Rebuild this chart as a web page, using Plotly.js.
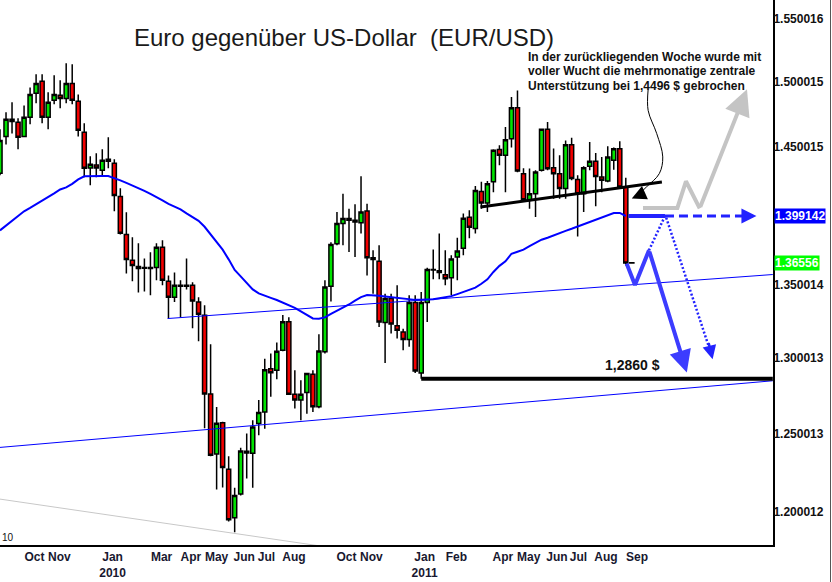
<!DOCTYPE html>
<html>
<head>
<meta charset="utf-8">
<script src="https://cdn.plot.ly/plotly-3.0.1.min.js"></script>
<style>html,body{margin:0;padding:0;background:#fff}#chart{width:832px;height:582px}</style>
</head>
<body>
<div id="chart"></div>
<script>
// ---------- DATA (weekly EUR/USD, weeks starting 2009-09-07) ----------
const firstWeek = '2009-09-07';
const openP = [1.4305,1.4580,1.4710,1.4687,1.4580,1.4725,1.4909,1.5002,1.4725,1.4855,
1.4894,1.4870,1.4986,1.4848,1.4611,1.4343,1.4366,1.4326,1.4409,1.4379,
1.4134,1.3858,1.3673,1.3630,1.3618,1.3616,1.3623,1.3766,1.3525,1.3415,
1.3497,1.3490,1.3497,1.3381,1.3289,1.2758,1.2367,1.2570,1.2270,1.1966,
1.2114,1.2385,1.2372,1.2564,1.2640,1.2927,1.2916,1.3051,1.3245,1.2756,
1.2718,1.2768,1.2889,1.2674,1.3040,1.3490,1.3792,1.3936,1.3972,1.3960,
1.3943,1.4027,1.3692,1.3666,1.3240,1.3406,1.3218,1.3175,1.3123,1.3377,
1.2897,1.3377,1.3609,1.3600,1.3572,1.3551,1.3697,1.3759,1.3982,1.3901,
1.4170,1.4085,1.4241,1.4481,1.4439,1.4563,1.4799,1.4301,1.4105,1.4154,
1.4326,1.4634,1.4346,1.4301,1.4191,1.4518,1.4259,1.4154,1.4356,1.4394,
1.4276,1.4247,1.4401,1.4488,1.4202,1.3655];
const highP = [1.4634,1.4763,1.4840,1.4717,1.4816,1.4955,1.5057,1.5057,1.4917,1.5049,
1.5010,1.5143,1.5135,1.4901,1.4679,1.4431,1.4454,1.4483,1.4573,1.4409,
1.4193,1.4018,1.3837,1.3795,1.3687,1.3731,1.3795,1.3816,1.3567,1.3588,
1.3532,1.3687,1.3518,1.3415,1.3358,1.3092,1.2673,1.2576,1.2353,1.2154,
1.2408,1.2500,1.2586,1.2718,1.2994,1.3028,1.3103,1.3291,1.3276,1.2916,
1.2849,1.2898,1.2916,1.3159,1.3532,1.3802,1.4020,1.4154,1.4044,1.4076,
1.4282,1.4081,1.3745,1.3781,1.3439,1.3439,1.3497,1.3197,1.3428,1.3428,
1.3451,1.3621,1.3750,1.3864,1.3745,1.3709,1.3835,1.4010,1.4032,1.4210,
1.4241,1.4247,1.4483,1.4513,1.4652,1.4880,1.4932,1.4341,1.4339,1.4326,
1.4639,1.4689,1.4489,1.4439,1.4550,1.4570,1.4289,1.4356,1.4537,1.4456,
1.4426,1.4506,1.4496,1.4543,1.4272,1.3657];
const lowP = [1.4290,1.4520,1.4603,1.4483,1.4573,1.4672,1.4832,1.4679,1.4634,1.4825,
1.4794,1.4832,1.4825,1.4580,1.4274,1.4215,1.4274,1.4282,1.4341,1.4025,
1.3858,1.3581,1.3525,1.3448,1.3455,1.3428,1.3532,1.3497,1.3268,1.3381,
1.3275,1.3469,1.3200,1.3111,1.2534,1.2353,1.2143,1.2155,1.1943,1.1876,
1.2104,1.2212,1.2154,1.2489,1.2530,1.2740,1.2856,1.3044,1.2751,1.2662,
1.2586,1.2629,1.2640,1.2664,1.3028,1.3384,1.3780,1.3780,1.3733,1.3697,
1.3864,1.3567,1.3439,1.3209,1.2965,1.3164,1.3130,1.3051,1.3074,1.2897,
1.2860,1.3244,1.3539,1.3539,1.3497,1.3428,1.3532,1.3709,1.3830,1.3865,
1.4044,1.4020,1.4165,1.4364,1.4165,1.4496,1.4311,1.4105,1.4044,1.3984,
1.4318,1.4326,1.4117,1.4117,1.4117,1.4252,1.3844,1.4020,1.4326,1.4061,
1.4165,1.4237,1.4331,1.4193,1.3637,1.3654];
const closeP = [1.4550,1.4710,1.4694,1.4573,1.4725,1.4901,1.4986,1.4725,1.4840,1.4901,
1.4870,1.4986,1.4855,1.4626,1.4341,1.4371,1.4343,1.4401,1.4394,1.4141,
1.3866,1.3680,1.3637,1.3616,1.3623,1.3623,1.3766,1.3532,1.3415,1.3497,
1.3490,1.3497,1.3388,1.3296,1.2758,1.2360,1.2566,1.2281,1.1954,1.2104,
1.2387,1.2374,1.2542,1.2636,1.2920,1.2900,1.3044,1.3245,1.2756,1.2718,
1.2756,1.2894,1.2674,1.3046,1.3485,1.3786,1.3936,1.3972,1.3960,1.3948,
1.4020,1.3692,1.3680,1.3244,1.3406,1.3229,1.3186,1.3123,1.3377,1.2911,
1.3377,1.3609,1.3605,1.3588,1.3544,1.3682,1.3740,1.3974,1.3909,1.4178,
1.4085,1.4227,1.4476,1.4439,1.4555,1.4799,1.4321,1.4110,1.4154,1.4313,
1.4634,1.4338,1.4301,1.4191,1.4518,1.4265,1.4154,1.4346,1.4394,1.4281,
1.4252,1.4426,1.4488,1.4202,1.3654,1.3656];
// 40-week moving average as drawn
const movAvg = [1.3887,1.3923,1.3956,1.3989,1.4025,1.4050,1.4076,1.4101,1.4126,1.4156,
1.4185,1.4200,1.4226,1.4259,1.4282,1.4284,1.4284,1.4284,1.4284,1.4270,
1.4252,1.4233,1.4215,1.4196,1.4174,1.4152,1.4130,1.4105,1.4079,1.4058,
1.4039,1.4010,1.3985,1.3956,1.3913,1.3859,1.3805,1.3749,1.3680,1.3605,
1.3560,1.3518,1.3469,1.3441,1.3423,1.3410,1.3395,1.3378,1.3360,1.3340,
1.3316,1.3291,1.3268,1.3266,1.3275,1.3299,1.3320,1.3343,1.3364,1.3391,
1.3415,1.3429,1.3429,1.3425,1.3420,1.3415,1.3409,1.3404,1.3399,1.3396,
1.3396,1.3397,1.3401,1.3408,1.3413,1.3422,1.3436,1.3450,1.3466,1.3481,
1.3508,1.3539,1.3591,1.3634,1.3666,1.3720,1.3734,1.3749,1.3774,1.3798,
1.3820,1.3834,1.3852,1.3869,1.3884,1.3899,1.3916,1.3931,1.3949,1.3963,
1.3981,1.3998,1.4013,1.4013,1.3991];

// axis ticks
const xTickDates = ['2009-10-17','2009-11-15','2010-01-16','2010-03-14','2010-04-17','2010-05-17','2010-06-18','2010-07-14','2010-08-15','2010-10-15','2010-11-13','2011-01-14','2011-02-20','2011-04-15','2011-05-15','2011-06-17','2011-07-12','2011-08-13','2011-09-18'];
const xTickLabels = ['Oct','Nov','Jan<br>2010','Mar','Apr','May','Jun','Jul','Aug','Oct','Nov','Jan<br>2011','Feb','Apr','May','Jun','Jul','Aug','Sep'];
const yTickVals = [1.200012,1.250013,1.300013,1.350014,1.450015,1.500015,1.550016];
const yTickLabels = ['1.200012','1.250013','1.300013','1.350014','1.450015','1.500015','1.550016'];
const maLast = 1.399142, lastPrice = 1.36556;

// chart drawings (date, price)
const grayTrendX = ['2009-09-07','2010-09-25'], grayTrendY = [1.2082,1.1784];
const lowTrendX = ['2009-09-07','2012-02-23'], lowTrendY = [1.2410,1.2846];
const upTrendX = ['2010-03-21','2012-02-23'], upTrendY = [1.3267,1.3573];
const necklineX = ['2011-03-20','2011-10-17'], necklineY = [1.4056,1.4240];
const targetX = ['2011-01-10','2012-02-23'], targetY = [1.2860,1.2860];
const maSolidX = ['2011-09-08','2011-10-20 14:00'], maSolidY = [1.3991,1.3991];
const maDashX = ['2011-10-20 14:00','2012-01-25'], maDashY = [1.3991,1.3991];
const maArrow = {x:'2012-02-04', y:1.3991, ax:'2012-01-22', ay:1.3991};
const dot1X = ['2011-10-20 14:00','2011-10-02'], dot1Y = [1.3991,1.3745];
const dot2X = ['2011-10-22','2011-12-12'], dot2Y = [1.3979,1.3050];
const dot2Arrow = {x:'2011-12-15', y:1.2990, ax:'2011-12-10', ay:1.3110};
const zigX = ['2011-09-06','2011-09-15 17:00','2011-10-02'], zigY = [1.3650,1.3500,1.3745];
const zigArrow = {x:'2011-11-15', y:1.2902, ax:'2011-10-02', ay:1.3745};
const grayZigX = ['2011-09-25','2011-11-04','2011-11-14','2011-11-30'], grayZigY = [1.4050,1.4050,1.4245,1.4047];
const grayArrow = {x:'2012-01-24', y:1.4940, ax:'2011-11-30', ay:1.4047};
const curveX = ['2011-10-01','2011-10-01','2011-10-11','2011-10-18','2011-10-14','2011-09-29','2011-09-18'];
const curveY = [1.4939,1.4778,1.4601,1.4426,1.4302,1.4203,1.4135];
const curveArrow = {x:'2011-09-12', y:1.4118, ax:'2011-09-18', ay:1.4135};
const noteLines = ['In der zurückliegenden Woche wurde mit','voller Wucht die mehrmonatige zentrale','Unterstützung bei 1,4496 $ gebrochen'];
const titleText = 'Euro gegenüber US-Dollar  (EUR/USD)';

// ---------- BUILD ----------
function addDays(s, n){const d=new Date(s+'T00:00:00Z');d.setUTCDate(d.getUTCDate()+n);return d.toISOString().slice(0,10);}
const weeks = openP.map((_,i)=>addDays(firstWeek,7*i));
const FONT = 'Liberation Sans, Arial, sans-serif';
const BLUE2 = '#2222ff';

function line(x,y,color,width,dash,shape){
  return {type:'scatter',mode:'lines',x:x,y:y,line:{color:color,width:width,dash:dash||'solid',shape:shape||'linear'},hoverinfo:'skip',showlegend:false};
}
const traces = [
  line(grayTrendX,grayTrendY,'#c8c8c8',1),
  line(lowTrendX,lowTrendY,'#0000ff',1),
  line(upTrendX,upTrendY,'#0000ff',1),
  line(weeks.slice(0,movAvg.length),movAvg,'#0000ff',2),
  {type:'candlestick',x:weeks,open:openP,high:highP,low:lowP,close:closeP,
   increasing:{line:{color:'#000000',width:1.5},fillcolor:'#00e400'},
   decreasing:{line:{color:'#000000',width:1.5},fillcolor:'#f20000'},
   whiskerwidth:0,hoverinfo:'skip',showlegend:false},
  line(targetX,targetY,'#000000',4),
  line(necklineX,necklineY,'#000000',3),
  line(maSolidX,maSolidY,BLUE2,4),
  line(maDashX,maDashY,BLUE2,3,'9px,5px'),
  line(dot1X,dot1Y,BLUE2,2.5,'2px,2px'),
  line(dot2X,dot2Y,BLUE2,2.5,'2px,2px'),
  line(zigX,zigY,'#3c3cff',4),
  line(grayZigX,grayZigY,'#c4c4c4',4),
  line(curveX,curveY,'#000000',1,'solid','spline')
];

const L = Math.log10;
function arrow(a,color,width,size){
  return {x:a.x,y:L(a.y),ax:a.ax,ay:L(a.ay),xref:'x',yref:'y',axref:'x',ayref:'y',text:'',
    showarrow:true,arrowhead:2,arrowsize:size,arrowwidth:width,arrowcolor:color,standoff:0,startstandoff:0};
}
const W = 773, H = 545;
const annotations = [
  arrow(zigArrow,'#3c3cff',4,1.1),
  arrow(grayArrow,'#c4c4c4',4,1.3),
  arrow(maArrow,BLUE2,3,1.0),
  arrow(dot2Arrow,BLUE2,2.5,1.1),
  arrow(curveArrow,'#000000',1.2,2.4),
  {xref:'paper',yref:'paper',x:632/W,y:1-365/H,text:'1,2860 $',showarrow:false,xanchor:'center',yanchor:'middle',
   font:{family:FONT,size:14,color:'#111111',weight:'bold'}},
  {xref:'paper',yref:'y',x:774/W,y:L(maLast),text:String(maLast),showarrow:false,xanchor:'left',yanchor:'middle',
   bgcolor:'#0000ff',borderpad:0,font:{family:FONT,size:12,color:'#ffffff',weight:'bold'}},
  {xref:'paper',yref:'y',x:774/W,y:L(lastPrice),text:String(lastPrice),showarrow:false,xanchor:'left',yanchor:'middle',
   bgcolor:'#00ff00',borderpad:0,font:{family:FONT,size:12,color:'#ffffff',weight:'bold'}},
  {xref:'paper',yref:'paper',x:0,y:1-537/H,text:'10',showarrow:false,xanchor:'left',yanchor:'middle',
   font:{family:FONT,size:10,color:'#111111'}}
];
const noteY = [57,71.3,85.6];
noteLines.forEach((t,i)=>annotations.push({xref:'paper',yref:'paper',x:526/W,y:1-noteY[i]/H,text:t,showarrow:false,
  xanchor:'left',yanchor:'middle',font:{family:FONT,size:12,color:'#111111',weight:'bold'}}));

const layout = {
  width:832,height:582,
  margin:{l:0,r:59,t:0,b:37,pad:0},
  paper_bgcolor:'#ffffff',plot_bgcolor:'#ffffff',
  showlegend:false,hovermode:false,
  boxgap:0.32,boxgroupgap:0,
  title:{text:titleText,x:344/832,xref:'container',xanchor:'center',y:1-38/582,yref:'container',yanchor:'middle',
    font:{family:FONT,size:24,color:'#1a1a1a'}},
  xaxis:{type:'date',range:['2009-09-07','2012-02-23 06:00'],showgrid:false,zeroline:false,
    showline:true,linecolor:'#000000',linewidth:2,ticks:'',tickvals:xTickDates,ticktext:xTickLabels,
    tickfont:{family:FONT,size:12,color:'#181830',weight:'bold'},rangeslider:{visible:false},fixedrange:true},
  yaxis:{type:'log',range:[L(1.1798),L(1.5648)],side:'right',showgrid:false,zeroline:false,
    showline:true,linecolor:'#000000',linewidth:2,ticks:'',tickvals:yTickVals,ticktext:yTickLabels,
    ticklabelstandoff:-4,
    tickfont:{family:FONT,size:12,color:'#111111',weight:'bold'},fixedrange:true},
  annotations:annotations,
  shapes:[{type:'line',xref:'paper',yref:'paper',x0:830.5/W,x1:830.5/W,y0:-37/H,y1:1,line:{color:'#555555',width:1}}]
};
Plotly.newPlot('chart',traces,layout,{displayModeBar:false,staticPlot:true});
</script>
</body>
</html>
